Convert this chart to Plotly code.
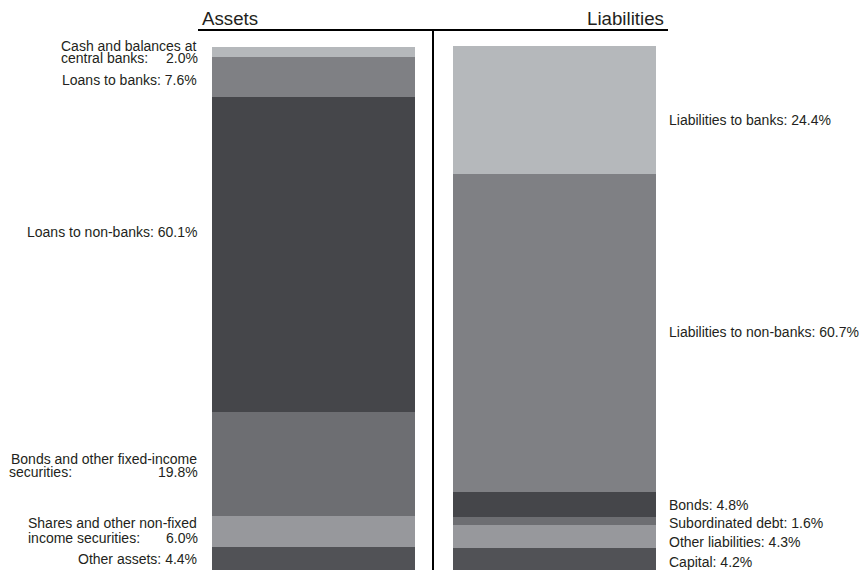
import plotly.graph_objects as go

# ---- data ----
sides = ["Assets", "Liabilities"]
# layers from bottom to top
asset_names = ["Other assets", "Shares and other non-fixed\nincome securities",
               "Bonds and other fixed-income\nsecurities", "Loans to non-banks",
               "Loans to banks", "Cash and balances at\ncentral banks"]
asset_values = [4.4, 6.0, 19.8, 60.1, 7.6, 2.0]
liab_names = ["Capital", "Other liabilities", "Subordinated debt", "Bonds",
              "Liabilities to non-banks", "Liabilities to banks"]
liab_values = [4.2, 4.3, 1.6, 4.8, 60.7, 24.4]

# ---- styles / positions ----
colors = ["#515256", "#97989c", "#6d6e72", "#45464a", "#7f8084", "#b5b8bb"]
W, H, TOP = 861, 570, 46
font_family = "Liberation Sans, Arial, Helvetica, sans-serif"
txt_color = "#231f20"

def px(x):
    return x / W

def py(y):
    return (H - y) / (H - TOP)

# label pixel positions (line centers) for assets labels (bottom to top order)
asset_label_y = [[559], [523, 538], [459, 472], [232], [80], [45.5, 58.5]]
asset_label_left = [None, 27, 8, None, None, 60]
asset_right = 198
liab_label_y = [562, 542, 523, 505, 332, 120]
liab_left = 668

bar_center0 = 313.5
bar_step = 241.0

fig = go.Figure()
for i in range(len(asset_values)):
    fig.add_trace(go.Bar(
        x=sides, y=[asset_values[i], liab_values[i]],
        marker=dict(color=colors[i], line=dict(width=0)),
        width=0.842, showlegend=False, hoverinfo="skip"))

ann = []
fnt = dict(family=font_family, size=14, color=txt_color)
for i, (name, val) in enumerate(zip(asset_names, asset_values)):
    lines = name.split("\n")
    ys = asset_label_y[i]
    if len(lines) == 1:
        ann.append(dict(text=f"{name}: {val:.1f}%", x=px(asset_right), y=py(ys[0]),
                        xanchor="right", yanchor="middle", showarrow=False, font=fnt))
    else:
        ann.append(dict(text=lines[0], x=px(asset_right), y=py(ys[0]),
                        xanchor="right", yanchor="middle", showarrow=False, font=fnt))
        ann.append(dict(text=lines[1] + ":", x=px(asset_label_left[i]), y=py(ys[1]),
                        xanchor="left", yanchor="middle", showarrow=False, font=fnt))
        ann.append(dict(text=f"{val:.1f}%", x=px(asset_right + 1), y=py(ys[1]),
                        xanchor="right", yanchor="middle", showarrow=False, font=fnt))
for i, (name, val) in enumerate(zip(liab_names, liab_values)):
    ann.append(dict(text=f"{name}: {val:.1f}%", x=px(liab_left), y=py(liab_label_y[i]),
                    xanchor="left", yanchor="middle", showarrow=False, font=fnt))

tfnt = dict(family=font_family, size=18.7, color=txt_color)
ann.append(dict(text="Assets", x=px(201), y=py(18.5), xanchor="left", yanchor="middle",
                showarrow=False, font=tfnt))
ann.append(dict(text="Liabilities", x=px(665), y=py(18.5), xanchor="right", yanchor="middle",
                showarrow=False, font=tfnt))

for a in ann:
    a["xref"] = "paper"
    a["yref"] = "paper"
    a["borderpad"] = 0

shapes = [
    dict(type="line", xref="paper", yref="paper", x0=px(198), x1=px(668), y0=py(30), y1=py(30),
         line=dict(color="#000000", width=2)),
    dict(type="line", xref="paper", yref="paper", x0=px(433), x1=px(433), y0=py(30), y1=py(571),
         line=dict(color="#000000", width=2)),
]

fig.update_layout(
    width=W, height=H,
    margin=dict(l=0, r=0, t=TOP, b=0),
    barmode="stack", bargap=0,
    plot_bgcolor="white", paper_bgcolor="white",
    xaxis=dict(type="category",
               range=[-bar_center0 / bar_step, (W - bar_center0) / bar_step],
               visible=False, fixedrange=True),
    yaxis=dict(range=[0, 100], visible=False, fixedrange=True),
    annotations=ann, shapes=shapes,
)

fig.write_html("out.html",
               config={"displayModeBar": False, "staticPlot": True},
               post_script="document.body.style.margin='0px';document.body.style.overflow='hidden';")
